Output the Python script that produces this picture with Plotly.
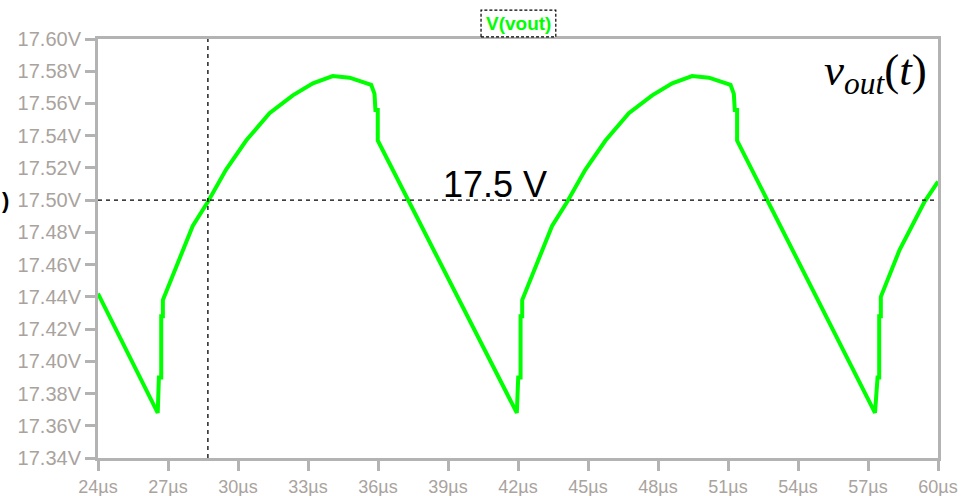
import plotly.graph_objects as go

# V(vout) transient trace, time in microseconds, voltage in volts
t_us = [
    24.00, 26.56, 26.61, 26.71, 26.71, 26.78, 26.78,
    27.35, 28.06, 28.71, 29.49, 30.35, 31.35, 32.35, 33.21, 34.06, 34.78, 35.71,
    35.85, 35.89, 35.99, 35.99,
    41.95, 42.01, 42.11, 42.11, 42.18, 42.18,
    42.75, 43.46, 44.11, 44.89, 45.75, 46.75, 47.75, 48.61, 49.46, 50.18, 51.11,
    51.25, 51.29, 51.39, 51.39,
    57.30, 57.41, 57.48, 57.48, 57.55, 57.55,
    58.35, 59.42, 60.00,
]
v_out = [
    17.442, 17.368, 17.390, 17.390, 17.428, 17.428, 17.438,
    17.459, 17.484, 17.499, 17.519, 17.537, 17.554, 17.565, 17.5725, 17.577, 17.576, 17.5715,
    17.566, 17.556, 17.556, 17.537,
    17.368, 17.390, 17.390, 17.428, 17.428, 17.438,
    17.459, 17.484, 17.499, 17.519, 17.537, 17.554, 17.565, 17.5725, 17.577, 17.576, 17.5715,
    17.566, 17.556, 17.556, 17.537,
    17.368, 17.390, 17.390, 17.428, 17.428, 17.440,
    17.469, 17.499, 17.5115,
]

# cursor positions
cursor_t = 28.71
level_v = 17.5

x_ticks = list(range(24, 61, 3))
x_labels = [f"{v}µs" for v in x_ticks]
y_ticks = [round(17.34 + 0.02 * i, 2) for i in range(14)]
y_labels = [f"{v:.2f}V" for v in y_ticks]

AXIS = "#b3b3b3"
LABEL = "#a9a39e"
GREEN = "#00ff00"

fig = go.Figure()
fig.add_trace(go.Scatter(
    x=t_us, y=v_out, mode="lines", name="V(vout)",
    line=dict(color=GREEN, width=4), showlegend=False,
))

# dashed cursor cross
fig.add_shape(type="line", xref="x", yref="paper", x0=cursor_t, x1=cursor_t, y0=0, y1=1,
              line=dict(color="black", width=1.3, dash="4px,4px"))
fig.add_shape(type="line", xref="paper", yref="y", x0=0, x1=1, y0=level_v, y1=level_v,
              line=dict(color="black", width=1.3, dash="4px,4px"))

# trace label with dashed box
fig.add_shape(type="rect", xref="paper", yref="paper", x0=0.456, x1=0.545, y0=1.005, y1=1.069,
              line=dict(color="black", width=1.2, dash="3px,2px"), fillcolor="white")
fig.add_annotation(xref="paper", yref="paper", x=0.5, y=1.037, text="<b>V(vout)</b>",
                   showarrow=False, xanchor="center", yanchor="middle",
                   font=dict(family="Arial, Liberation Sans", size=19, color=GREEN))

fig.add_annotation(xref="x", yref="y", x=38.68, y=level_v + 0.0095, text=f"{level_v} V",
                   showarrow=False, xanchor="left", yanchor="middle",
                   font=dict(family="Arial, Liberation Sans", size=36, color="black"))

fig.add_annotation(xref="paper", yref="paper", x=0.989, y=0.92,
                   text="<i>v</i><sub><i>out</i></sub>(<i>t</i>)",
                   showarrow=False, xanchor="right", yanchor="middle",
                   font=dict(family="Times New Roman, Liberation Serif", size=45, color="black"))

fig.add_annotation(xref="paper", yref="y", x=-0.117, y=level_v, text="<b>)</b>",
                   showarrow=False, xanchor="left", yanchor="middle",
                   font=dict(family="Arial, Liberation Sans", size=22, color="black"))

axis_common = dict(
    showgrid=False, zeroline=False, showline=True, linecolor=AXIS, linewidth=3,
    mirror=True, ticks="outside", ticklen=10, tickwidth=3, tickcolor=AXIS,
    automargin=False,
)
fig.update_xaxes(range=[24, 60], tickvals=x_ticks, ticktext=x_labels,
                 tickfont=dict(family="Arial, Liberation Sans", size=18, color=LABEL),
                 **axis_common)
fig.update_yaxes(range=[17.34, 17.60], tickvals=y_ticks, ticktext=y_labels,
                 tickfont=dict(family="Arial, Liberation Sans", size=20, color=LABEL),
                 **axis_common)

fig.update_layout(
    width=965, height=496, autosize=False,
    margin=dict(l=98, r=27, t=39, b=38, pad=0),
    plot_bgcolor="white", paper_bgcolor="white",
)

fig.write_html("out.html")
